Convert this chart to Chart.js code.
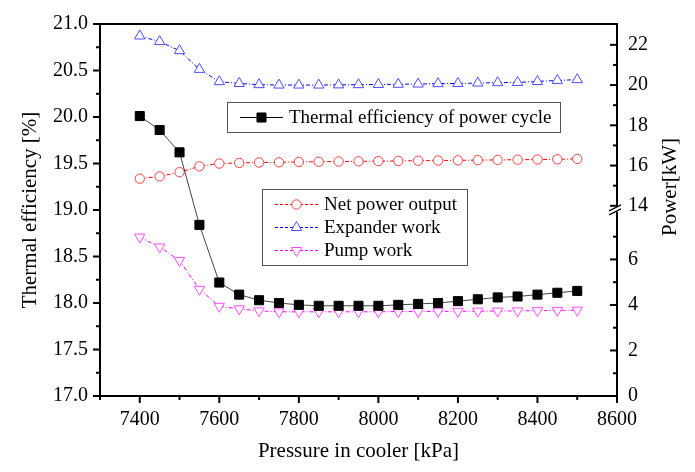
<!DOCTYPE html>
<html>
<head>
<meta charset="utf-8">
<title>Thermal efficiency and power vs pressure in cooler</title>
<script src="https://cdn.jsdelivr.net/npm/chart.js"></script>
<style>
  html, body { margin: 0; padding: 0; background: #fff; }
</style>
</head>
<body>
<canvas id="chart" width="695" height="472"></canvas>
<script>
// pressure in cooler [kPa]
const pressure = [7400, 7450, 7500, 7550, 7600, 7650, 7700, 7750, 7800, 7850, 7900, 7950,
                  8000, 8050, 8100, 8150, 8200, 8250, 8300, 8350, 8400, 8450, 8500];

// thermal efficiency of power cycle [%]
const efficiency = [20.01, 19.86, 19.62, 18.84, 18.22, 18.09, 18.03, 18.00, 17.98, 17.97, 17.97, 17.97,
                    17.97, 17.98, 17.99, 18.00, 18.02, 18.04, 18.06, 18.07, 18.09, 18.11, 18.13];

// power [kW]
const netPower = [15.35, 15.46, 15.67, 15.96, 16.10, 16.13, 16.15, 16.16, 16.18, 16.19, 16.20, 16.21,
                  16.22, 16.23, 16.24, 16.25, 16.26, 16.27, 16.28, 16.29, 16.30, 16.31, 16.33];
const expanderWork = [22.44, 22.16, 21.71, 20.78, 20.17, 20.08, 20.02, 20.00, 20.00, 20.00, 20.01, 20.02,
                      20.03, 20.04, 20.05, 20.07, 20.08, 20.10, 20.12, 20.13, 20.18, 20.23, 20.27];
const pumpWork = [6.98, 6.55, 5.95, 4.69, 3.94, 3.83, 3.74, 3.70, 3.70, 3.70, 3.70, 3.70,
                  3.70, 3.71, 3.71, 3.72, 3.72, 3.73, 3.73, 3.74, 3.75, 3.76, 3.77];

// tick labels
const pressureTicks = [7400, 7600, 7800, 8000, 8200, 8400, 8600];
const pressureMinor = [7300, 7500, 7700, 7900, 8100, 8300, 8500];
const efficiencyTicks = [17.0, 17.5, 18.0, 18.5, 19.0, 19.5, 20.0, 20.5, 21.0];
const efficiencyMinor = [17.25, 17.75, 18.25, 18.75, 19.25, 19.75, 20.25, 20.75];
const powerTicks = [0, 2, 4, 6, 14, 16, 18, 20, 22];
const powerMinor = [1, 3, 5, 7, 15, 17, 19, 21];

// right axis is broken: 0..8 kW as is, 14..22 kW squeezed above the break
function powerToAxis(kw) {
    return kw < 11 ? kw : 8.357 + (kw - 14) * 0.884;
}

const FONT = '"Liberation Serif", "Times New Roman", serif';
Chart.defaults.font.family = FONT;
Chart.defaults.color = '#000';

const series = [
    { label: 'Thermal efficiency of power cycle', values: efficiency, axis: 'y',
      line: '#444', marker: '#000', fill: '#000', style: 'rect', radius: 6.4, rot: 0, dash: [] },
    { label: 'Net power output', values: netPower, axis: 'y1',
      line: '#ff0000', marker: '#ff4040', fill: '#fff', style: 'circle', radius: 4.7, rot: 0, dash: [4, 2, 1, 2] },
    { label: 'Expander work', values: expanderWork, axis: 'y1',
      line: '#0000ff', marker: '#4d4dff', fill: '#fff', style: 'triangle', radius: 6, rot: 0, dash: [4, 2, 1, 2] },
    { label: 'Pump work', values: pumpWork, axis: 'y1',
      line: '#ff00ff', marker: '#ff4dff', fill: '#fff', style: 'triangle', radius: 6, rot: 180, dash: [4, 2, 1, 2] }
];

const datasets = series.map(s => ({
    label: s.label,
    yAxisID: s.axis,
    data: pressure.map((p, i) => ({ x: p, y: s.axis === 'y1' ? powerToAxis(s.values[i]) : s.values[i] })),
    borderColor: s.line,
    borderWidth: 1,
    borderDash: s.dash,
    pointStyle: s.style,
    pointRotation: s.rot,
    pointRadius: s.radius,
    pointBackgroundColor: s.fill,
    pointBorderColor: s.marker,
    pointBorderWidth: 1,
    tension: 0
}));

function drawMarker(ctx, s, x, y) {
    const r = s.radius;
    ctx.save();
    ctx.translate(x, y);
    ctx.rotate(s.rot * Math.PI / 180);
    ctx.beginPath();
    if (s.style === 'rect') {
        const h = r * Math.SQRT1_2;
        ctx.rect(-h, -h, 2 * h, 2 * h);
    } else if (s.style === 'circle') {
        ctx.arc(0, 0, r, 0, Math.PI * 2);
    } else {
        for (let k = 0; k < 3; k++) {
            const a = k * 2 * Math.PI / 3;
            const px = Math.sin(a) * r, py = -Math.cos(a) * r;
            if (k === 0) ctx.moveTo(px, py); else ctx.lineTo(px, py);
        }
        ctx.closePath();
    }
    ctx.fillStyle = s.fill;
    ctx.fill();
    ctx.setLineDash([]);
    ctx.lineWidth = 1;
    ctx.strokeStyle = s.marker;
    ctx.stroke();
    ctx.restore();
}

const decorations = {
    id: 'decorations',
    afterDraw(chart) {
        const ctx = chart.ctx;
        const area = chart.chartArea;
        const sx = chart.scales.x, sy = chart.scales.y, sp = chart.scales.y1;
        ctx.save();
        ctx.strokeStyle = '#000';
        ctx.lineWidth = 2;
        ctx.setLineDash([]);

        // top frame line
        ctx.beginPath();
        ctx.moveTo(area.left - 1, area.top);
        ctx.lineTo(area.right + 1, area.top);
        ctx.stroke();

        function tick(x1, y1, x2, y2) {
            ctx.beginPath();
            ctx.moveTo(x1, y1);
            ctx.lineTo(x2, y2);
            ctx.stroke();
        }
        // bottom axis ticks (outside)
        pressureTicks.forEach(v => { const x = sx.getPixelForValue(v); tick(x, area.bottom, x, area.bottom + 7); });
        pressureMinor.forEach(v => { const x = sx.getPixelForValue(v); tick(x, area.bottom, x, area.bottom + 4); });
        // left axis ticks (outside)
        efficiencyTicks.forEach(v => { const y = sy.getPixelForValue(v); tick(area.left - 7, y, area.left, y); });
        efficiencyMinor.forEach(v => { const y = sy.getPixelForValue(v); tick(area.left - 4, y, area.left, y); });
        // right axis ticks (inside)
        powerTicks.forEach(v => { const y = sp.getPixelForValue(powerToAxis(v)); tick(area.right - 7, y, area.right, y); });
        powerMinor.forEach(v => { const y = sp.getPixelForValue(powerToAxis(v)); tick(area.right - 4, y, area.right, y); });

        // axis break marks
        const yb = sp.getPixelForValue((8 + powerToAxis(14)) / 2);
        ctx.fillStyle = '#fff';
        ctx.fillRect(area.right - 2, yb - 3, 4, 5);
        ctx.lineWidth = 1.2;
        tick(area.right - 8, yb + 1, area.right + 4, yb - 5);
        tick(area.right - 8, yb + 5, area.right + 4, yb - 1);

        // right axis title
        ctx.fillStyle = '#000';
        ctx.font = '21px ' + FONT;
        ctx.textAlign = 'center';
        ctx.textBaseline = 'middle';
        ctx.save();
        ctx.translate(670, 187);
        ctx.rotate(-Math.PI / 2);
        ctx.fillText('Power[kW]', 0, 0);
        ctx.restore();

        // legends
        ctx.font = '19px ' + FONT;
        ctx.textAlign = 'left';
        ctx.lineWidth = 1;
        ctx.strokeStyle = '#555';
        ctx.strokeRect(227.5, 102.5, 333, 30);
        ctx.strokeRect(262.5, 189.5, 205, 76);

        const entries = [
            { s: series[0], x: 240, y: 117.5, dash: [] },
            { s: series[1], x: 275, y: 204.5, dash: [3, 2] },
            { s: series[2], x: 275, y: 227.5, dash: [3, 2] },
            { s: series[3], x: 275, y: 250.5, dash: [3, 2] }
        ];
        entries.forEach(e => {
            ctx.strokeStyle = e.s.axis === 'y' ? '#000' : e.s.line;
            ctx.setLineDash(e.dash);
            ctx.beginPath();
            ctx.moveTo(e.x, e.y);
            ctx.lineTo(e.x + 43, e.y);
            ctx.stroke();
            ctx.setLineDash([]);
            drawMarker(ctx, e.s, e.x + 21.5, e.y);
            ctx.fillStyle = '#000';
            ctx.fillText(e.s.label, e.x + 49, e.y + 1);
        });
        ctx.restore();
    }
};

new Chart(document.getElementById('chart'), {
    type: 'line',
    data: { datasets: datasets },
    options: {
        responsive: false,
        animation: false,
        devicePixelRatio: 1,
        layout: { padding: { top: 16, left: 0, right: 0, bottom: 0 } },
        plugins: {
            legend: { display: false },
            tooltip: { enabled: false }
        },
        scales: {
            x: {
                type: 'linear',
                position: 'bottom',
                min: 7300,
                max: 8600,
                afterBuildTicks: s => { s.ticks = pressureTicks.map(v => ({ value: v })); },
                afterFit: s => { s.height = 76; },
                ticks: { font: { size: 20 }, padding: 12, maxRotation: 0, color: '#000', callback: v => String(v) },
                grid: { display: false, drawTicks: false },
                border: { display: true, color: '#000', width: 2 },
                title: { display: true, text: 'Pressure in cooler [kPa]', font: { size: 21 }, padding: { top: 0, bottom: 8 }, color: '#000' }
            },
            y: {
                type: 'linear',
                position: 'left',
                min: 17,
                max: 21,
                afterBuildTicks: s => { s.ticks = efficiencyTicks.map(v => ({ value: v })); },
                afterFit: s => { s.width = 100; },
                ticks: { font: { size: 20 }, padding: 12, color: '#000', callback: v => v.toFixed(1) },
                grid: { display: false, drawTicks: false },
                border: { display: true, color: '#000', width: 2 },
                title: { display: true, text: 'Thermal efficiency [%]', font: { size: 21 }, padding: { top: 18, bottom: 0 }, color: '#000' }
            },
            y1: {
                type: 'linear',
                position: 'right',
                min: 0,
                max: 380 / 23.25,
                afterBuildTicks: s => { s.ticks = powerTicks.map(v => ({ value: powerToAxis(v) })); },
                afterFit: s => { s.width = 78; },
                ticks: { font: { size: 20 }, padding: 11, color: '#000', callback: (v, i) => String(powerTicks[i]) },
                grid: { display: false, drawTicks: false },
                border: { display: true, color: '#000', width: 2 }
            }
        }
    },
    plugins: [decorations]
});
</script>
</body>
</html>
